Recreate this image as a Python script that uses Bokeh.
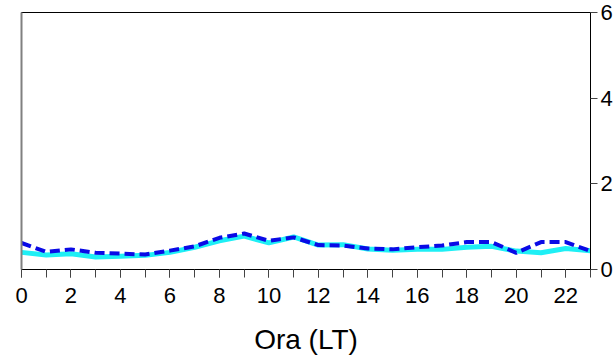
from bokeh.plotting import figure
from bokeh.models import LinearAxis, FixedTicker, Range1d
from bokeh.embed import file_html
from bokeh.resources import INLINE

hours = list(range(24))
solid_vals = [0.40, 0.34, 0.37, 0.29, 0.31, 0.33, 0.40, 0.52, 0.67, 0.78, 0.62, 0.76,
              0.57, 0.58, 0.48, 0.45, 0.47, 0.47, 0.52, 0.54, 0.43, 0.39, 0.49, 0.44]
dashed_vals = [0.62, 0.41, 0.47, 0.39, 0.37, 0.35, 0.44, 0.54, 0.74, 0.84, 0.67, 0.75,
               0.57, 0.56, 0.49, 0.47, 0.52, 0.56, 0.64, 0.64, 0.39, 0.64, 0.64, 0.43]
x_tick_labels = [0, 2, 4, 6, 8, 10, 12, 14, 16, 18, 20, 22]
y_ticks = [0, 2, 4, 6]

FONT = "Liberation Sans"

p = figure(width=615, height=357, output_backend="svg", toolbar_location=None,
           x_range=Range1d(0, 23), y_range=Range1d(0, 6),
           y_axis_location="right",
           min_border_left=21, min_border_top=12, min_border_right=23, min_border_bottom=87)

p.background_fill_color = "white"
p.border_fill_color = "white"
p.outline_line_color = "black"
p.outline_line_width = 1
p.xgrid.visible = False
p.ygrid.visible = False

# bottom axis
xa = p.xaxis[0]
xa.ticker = FixedTicker(ticks=x_tick_labels, minor_ticks=hours)
xa.axis_line_color = "black"
xa.major_tick_line_color = "#444444"
xa.minor_tick_line_color = "#444444"
xa.major_tick_in = 0
xa.major_tick_out = 8
xa.minor_tick_in = 0
xa.minor_tick_out = 8
xa.major_label_text_font = FONT
xa.major_label_text_font_size = "22px"
xa.major_label_text_color = "black"
xa.major_label_standoff = 10
xa.axis_label = "Ora (LT)"
xa.axis_label_text_font = FONT
xa.axis_label_text_font_size = "28px"
xa.axis_label_text_font_style = "normal"
xa.axis_label_text_color = "black"
xa.axis_label_standoff = 18

# right axis
ya = p.yaxis[0]
ya.ticker = FixedTicker(ticks=y_ticks)
ya.axis_line_color = "black"
ya.major_tick_line_color = "#444444"
ya.major_tick_in = 0
ya.major_tick_out = 7
ya.minor_tick_line_color = None
ya.major_label_text_font = FONT
ya.major_label_text_font_size = "22px"
ya.major_label_text_color = "black"
ya.major_label_standoff = 3

# left gray frame line
la = LinearAxis(ticker=FixedTicker(ticks=[]), axis_line_color="#808080", axis_line_width=2,
                major_tick_line_color=None, minor_tick_line_color=None,
                major_label_text_font_size="0px")
p.add_layout(la, "left")

p.line(hours, solid_vals, line_color="#1EEFF5", line_width=5)
p.line(hours, dashed_vals, line_color="#0A0AE6", line_width=4, line_dash="10 5")

open("out.html", "w").write(file_html(p, INLINE))
